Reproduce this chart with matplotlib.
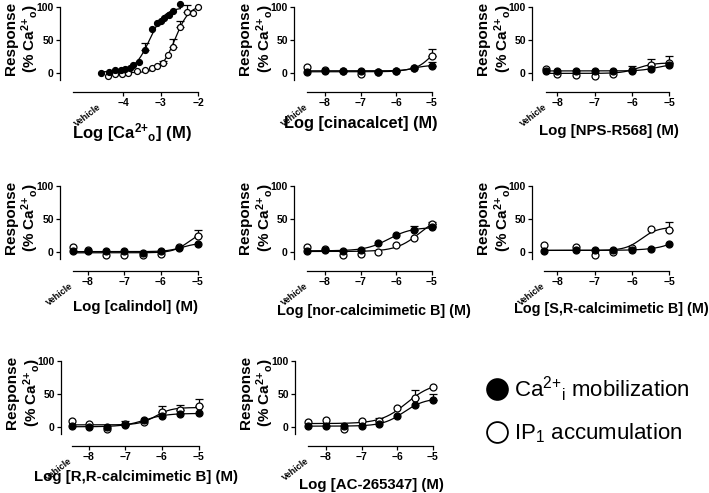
import numpy as np
import matplotlib
matplotlib.use("Agg")
import matplotlib.pyplot as plt
from matplotlib.lines import Line2D

plt.rcParams.update({
    "font.family": "Liberation Sans",
    "mathtext.fontset": "custom",
    "mathtext.rm": "Liberation Sans",
    "mathtext.bf": "Liberation Sans:bold",
    "mathtext.default": "rm",
    "axes.linewidth": 0.9,
})

W, H = 709, 493

# --- data (log M, % of Ca2+o max response) ---
DOSES = [-8, -7.5, -7, -6.5, -6, -5.5, -5]
DOSES_SR = [-7.5, -7, -6.5, -6, -5.5, -5]

CA_X_FILLED = [-4.58, -4.39, -4.21, -4.06, -3.95, -3.83, -3.73, -3.59, -3.41, -3.24,
               -3.09, -3.0, -2.91, -2.78, -2.67, -2.48]
CA_FILLED = [0.5, 2, 4.5, 4.5, 6, 8, 12, 17, 34, 66, 75, 78, 83, 88, 93, 104]
CA_FILLED_ERR = [0, 0, 0, 0, 0, 0, 0, 0, 11, 0, 0, 0, 0, 0, 0, 0]
CA_X_OPEN = [-4.4, -4.22, -4.04, -3.87, -3.64, -3.42, -3.24, -3.11, -2.95, -2.82,
             -2.67, -2.49, -2.31, -2.15, -2.0]
CA_OPEN = [-5, -1, -1, 0, 2.5, 5, 7.5, 11, 15, 27, 40, 70, 92, 90, 100]
CA_OPEN_ERR = [0, 0, 0, 0, 0, 0, 0, 0, 3, 0, 11, 8, 11, 0, 0]

CINA_FILLED = [1, 2.5, 2.5, 2.5, 1, 2.5, 7.5, 11]
CINA_FILLED_ERR = [0, 0, 0, 0, 0, 0, 0, 6]
CINA_OPEN = [9, 5, 2.5, -1, 1, 3.5, 7.5, 26]
CINA_OPEN_ERR = [0, 0, 0, 0, 0, 0, 0, 10]

NPS_FILLED = [3.5, 3.5, 3.5, 2.5, 2.5, 3.5, 6.5, 11.5]
NPS_FILLED_ERR = [0, 0, 0, 0, 0, 0, 0, 0]
NPS_OPEN = [6.5, -1.5, -2.5, -4, -1, 5, 12.5, 15]
NPS_OPEN_ERR = [0, 0, 0, 0, 0, 5, 8.5, 11]

CALI_FILLED = [1, 1, 1, 1, -1, 1, 6, 12]
CALI_FILLED_ERR = [0, 0, 0, 0, 0, 0, 0, 0]
CALI_OPEN = [8, 3, -5, -5, -5, -3, 7, 24]
CALI_OPEN_ERR = [0, 0, 0, 0, 0, 0, 0, 9]

NOR_FILLED = [2, 3, 2, 3, 13, 25, 33, 37]
NOR_FILLED_ERR = [0, 0, 0, 0, 0, 0, 7, 3]
NOR_OPEN = [7, 4, -4, -3, 0, 10, 21, 42]
NOR_OPEN_ERR = [0, 0, 0, 0, 0, 0, 0, 4]

SR_FILLED = [1, 3, 3, 3, 3, 5, 12]
SR_FILLED_ERR = [0, 0, 0, 0, 0, 0, 0]
SR_OPEN = [10, 7, -4, 0, 6, 35, 33]
SR_OPEN_ERR = [0, 0, 0, 0, 0, 0, 13]

RR_FILLED = [1.5, 0, 0, 3.5, 10, 17, 19, 21]
RR_FILLED_ERR = [0, 0, 0, 6, 0, 0, 0, 0]
RR_OPEN = [9, 4, -3.5, 4, 7.5, 22, 26, 31]
RR_OPEN_ERR = [0, 0, 0, 0, 0, 9, 7, 11]

AC_FILLED = [1.5, 1.5, 1.5, 1.5, 5, 16, 32.5, 41]
AC_FILLED_ERR = [0, 0, 0, 0, 0, 0, 0, 9]
AC_OPEN = [7, 11, -2.5, 8.5, 9, 28.5, 43.5, 61]
AC_OPEN_ERR = [0, 0, 0, 0, 5, 0, 12, 0]

VEHICLE_X = [-4.6, -8.5, -8.3, -8.4, -8.5, -8.35, -8.45, -8.5]
XLABELS = [
    r"Log [Ca$^{\mathbf{2{+}}}{}_{\mathbf{o}}$] (M)",
    "Log [cinacalcet] (M)",
    "Log [NPS-R568] (M)",
    "Log [calindol] (M)",
    "Log [nor-calcimimetic B] (M)",
    "Log [S,R-calcimimetic B] (M)",
    "Log [R,R-calcimimetic B] (M)",
    "Log [AC-265347] (M)",
]
YLABEL = "Response\n" + r"(% Ca$^{\mathbf{2{+}}}{}_{\mathbf{o}}$)"
LEGEND_LABELS = [r"Ca$^{2{+}}{}_{\mathrm{i}}$ mobilization", r"IP$_{1}$ accumulation"]


def hill(x, bottom, span, ec50, slope):
    return bottom + span / (1 + 10 ** ((ec50 - x) * slope))


def hill_fit(x, y, ec_lo, ec_hi, slope_max):
    # grid over EC50 / slope, bottom and span solved by linear least squares
    x = np.asarray(x, float)
    y = np.asarray(y, float)
    ecs = np.arange(ec_lo, ec_hi, 0.01)
    slopes = np.arange(0.5, slope_max + 0.001, 0.05)
    E, S = np.meshgrid(ecs, slopes, indexing="ij")
    f = 1 / (1 + 10 ** ((E[..., None] - x) * S[..., None]))
    fm = f.mean(-1)
    ym = y.mean()
    with np.errstate(divide="ignore", invalid="ignore"):
        span = ((f - fm[..., None]) * (y - ym)).sum(-1) / ((f - fm[..., None]) ** 2).sum(-1)
    bottom = ym - span * fm
    sse = ((y - bottom[..., None] - span[..., None] * f) ** 2).sum(-1)
    i = np.unravel_index(np.nanargmin(sse), sse.shape)
    return bottom[i], span[i], E[i], S[i]


def draw_series(ax, x, y, err, face, z, ms, fit_opts):
    x = np.asarray(x, float)
    y = np.asarray(y, float)
    err = np.asarray(err, float)
    b, d, ec, s = hill_fit(x, y, *fit_opts)
    xs = np.linspace(x.min(), x.max(), 300)
    ax.plot(xs, hill(xs, b, d, ec, s), color="black", lw=0.9, zorder=2, clip_on=False)
    m = err > 0
    if m.any():
        ax.errorbar(x[m], y[m], yerr=[np.zeros(m.sum()), err[m]], fmt="none",
                    ecolor="black", elinewidth=0.9, capsize=2.6, capthick=0.9,
                    zorder=1, clip_on=False)
    ax.plot(x, y, "o", ms=ms, mfc=face, mec="black", mew=0.9, zorder=z, clip_on=False)


def draw_panel(ax, x_f, filled, filled_err, x_o, opened, opened_err, vehicle, xlim,
               ticks, axis_start, xlabel, label_size, label_drop, label_shift, ms, fit_opts):
    draw_series(ax, x_o, opened, opened_err, "white", 3, ms, fit_opts)
    draw_series(ax, x_f, filled, filled_err, "black", 4, ms, fit_opts)

    ax.set_xlim(*xlim)
    ax.set_ylim(-28, 105)
    ax.spines["top"].set_visible(False)
    ax.spines["right"].set_visible(False)
    ax.spines["left"].set_bounds(-10, 100)
    ax.spines["bottom"].set_bounds(axis_start, ticks[-1])
    ax.set_xticks(ticks)
    ax.set_yticks([0, 50, 100])
    ax.tick_params(direction="out", length=3, width=0.9, labelsize=7.5, pad=1.5)
    for lab in ax.get_xticklabels() + ax.get_yticklabels():
        lab.set_fontweight("bold")

    ax.annotate("Vehicle", xy=(vehicle, 0), xycoords=("data", "axes fraction"),
                xytext=(-2.5, -7.5), textcoords="offset points", rotation=38,
                rotation_mode="anchor", ha="right", va="top", fontsize=6.5,
                fontweight="bold")

    ax.set_xlabel(xlabel, fontsize=label_size, fontweight="bold")
    ax.xaxis.set_label_coords(0.5 + label_shift / 143.0, -label_drop / 88.0)
    ax.xaxis.label.set_va("center")
    ax.set_ylabel(YLABEL, fontsize=11, fontweight="bold", linespacing=1.15)
    ax.yaxis.set_label_coords(-18.5 / 143.0, 0.6)


fig = plt.figure(figsize=(W / 100, H / 100), dpi=100)


def add_ax(left, top):
    return fig.add_axes([left / W, 1 - (top + 88) / H, 143 / W, 88 / H])


vx = VEHICLE_X
dose_fit = (-8, -3.5, 2.0)
panels = [
    # left, top, x filled, filled, err, x open, open, err, xlim, ticks, axis start,
    # label size, label drop, label shift, marker size, fit options
    (60, 3.5, CA_X_FILLED, CA_FILLED, CA_FILLED_ERR, CA_X_OPEN, CA_OPEN, CA_OPEN_ERR,
     (-5.68, -1.88), [-4, -3, -2], -5.33, 12, 41, 0, 4.3, (-4.5, -1.5, 3.0)),
    (294, 3.5, [vx[1]] + DOSES, CINA_FILLED, CINA_FILLED_ERR, [vx[1]] + DOSES, CINA_OPEN,
     CINA_OPEN_ERR, (-8.87, -4.85), [-8, -7, -6, -5], vx[1], 11.8, 32, -5, 5, dose_fit),
    (532, 3.5, [vx[2]] + DOSES, NPS_FILLED, NPS_FILLED_ERR, [vx[2]] + DOSES, NPS_OPEN,
     NPS_OPEN_ERR, (-8.68, -4.85), [-8, -7, -6, -5], vx[2], 10.8, 40, 5, 5, dose_fit),
    (60, 182.5, [vx[3]] + DOSES, CALI_FILLED, CALI_FILLED_ERR, [vx[3]] + DOSES, CALI_OPEN,
     CALI_OPEN_ERR, (-8.75, -4.85), [-8, -7, -6, -5], vx[3], 10.8, 37, 4, 5, dose_fit),
    (294, 182.5, [vx[4]] + DOSES, NOR_FILLED, NOR_FILLED_ERR, [vx[4]] + DOSES, NOR_OPEN,
     NOR_OPEN_ERR, (-8.87, -4.85), [-8, -7, -6, -5], vx[4], 10.4, 41, 8, 5, dose_fit),
    (532, 182.5, [vx[5]] + DOSES_SR, SR_FILLED, SR_FILLED_ERR, [vx[5]] + DOSES_SR, SR_OPEN,
     SR_OPEN_ERR, (-8.68, -4.85), [-8, -7, -6, -5], vx[5], 10.4, 38, 8, 5, dose_fit),
    (61, 357.5, [vx[6]] + DOSES, RR_FILLED, RR_FILLED_ERR, [vx[6]] + DOSES, RR_OPEN,
     RR_OPEN_ERR, (-8.75, -4.85), [-8, -7, -6, -5], vx[6], 10.8, 32, 3, 5, dose_fit),
    (295, 357.5, [vx[7]] + DOSES, AC_FILLED, AC_FILLED_ERR, [vx[7]] + DOSES, AC_OPEN,
     AC_OPEN_ERR, (-8.87, -4.85), [-8, -7, -6, -5], vx[7], 10.8, 39, 5, 5, dose_fit),
]

for i, p in enumerate(panels):
    (left, top, xf, yf, ef, xo, yo, eo, xlim, ticks, start, size, drop, shift, ms, fit) = p
    ax = add_ax(left, top)
    draw_panel(ax, xf, yf, ef, xo, yo, eo, VEHICLE_X[i], xlim, ticks, start,
               XLABELS[i], size, drop, shift, ms, fit)

handles = [
    Line2D([], [], ls="none", marker="o", ms=15, mfc="black", mec="black", mew=1.3),
    Line2D([], [], ls="none", marker="o", ms=15, mfc="white", mec="black", mew=1.3),
]
fig.legend(handles, LEGEND_LABELS, loc="center left", bbox_to_anchor=(486 / W, 1 - 410 / H),
           frameon=False, prop={"size": 16, "weight": "normal"}, handlelength=1.0,
           handletextpad=0.25, borderpad=0, borderaxespad=0, labelspacing=0.8)

fig.savefig("out.png", dpi=100)
